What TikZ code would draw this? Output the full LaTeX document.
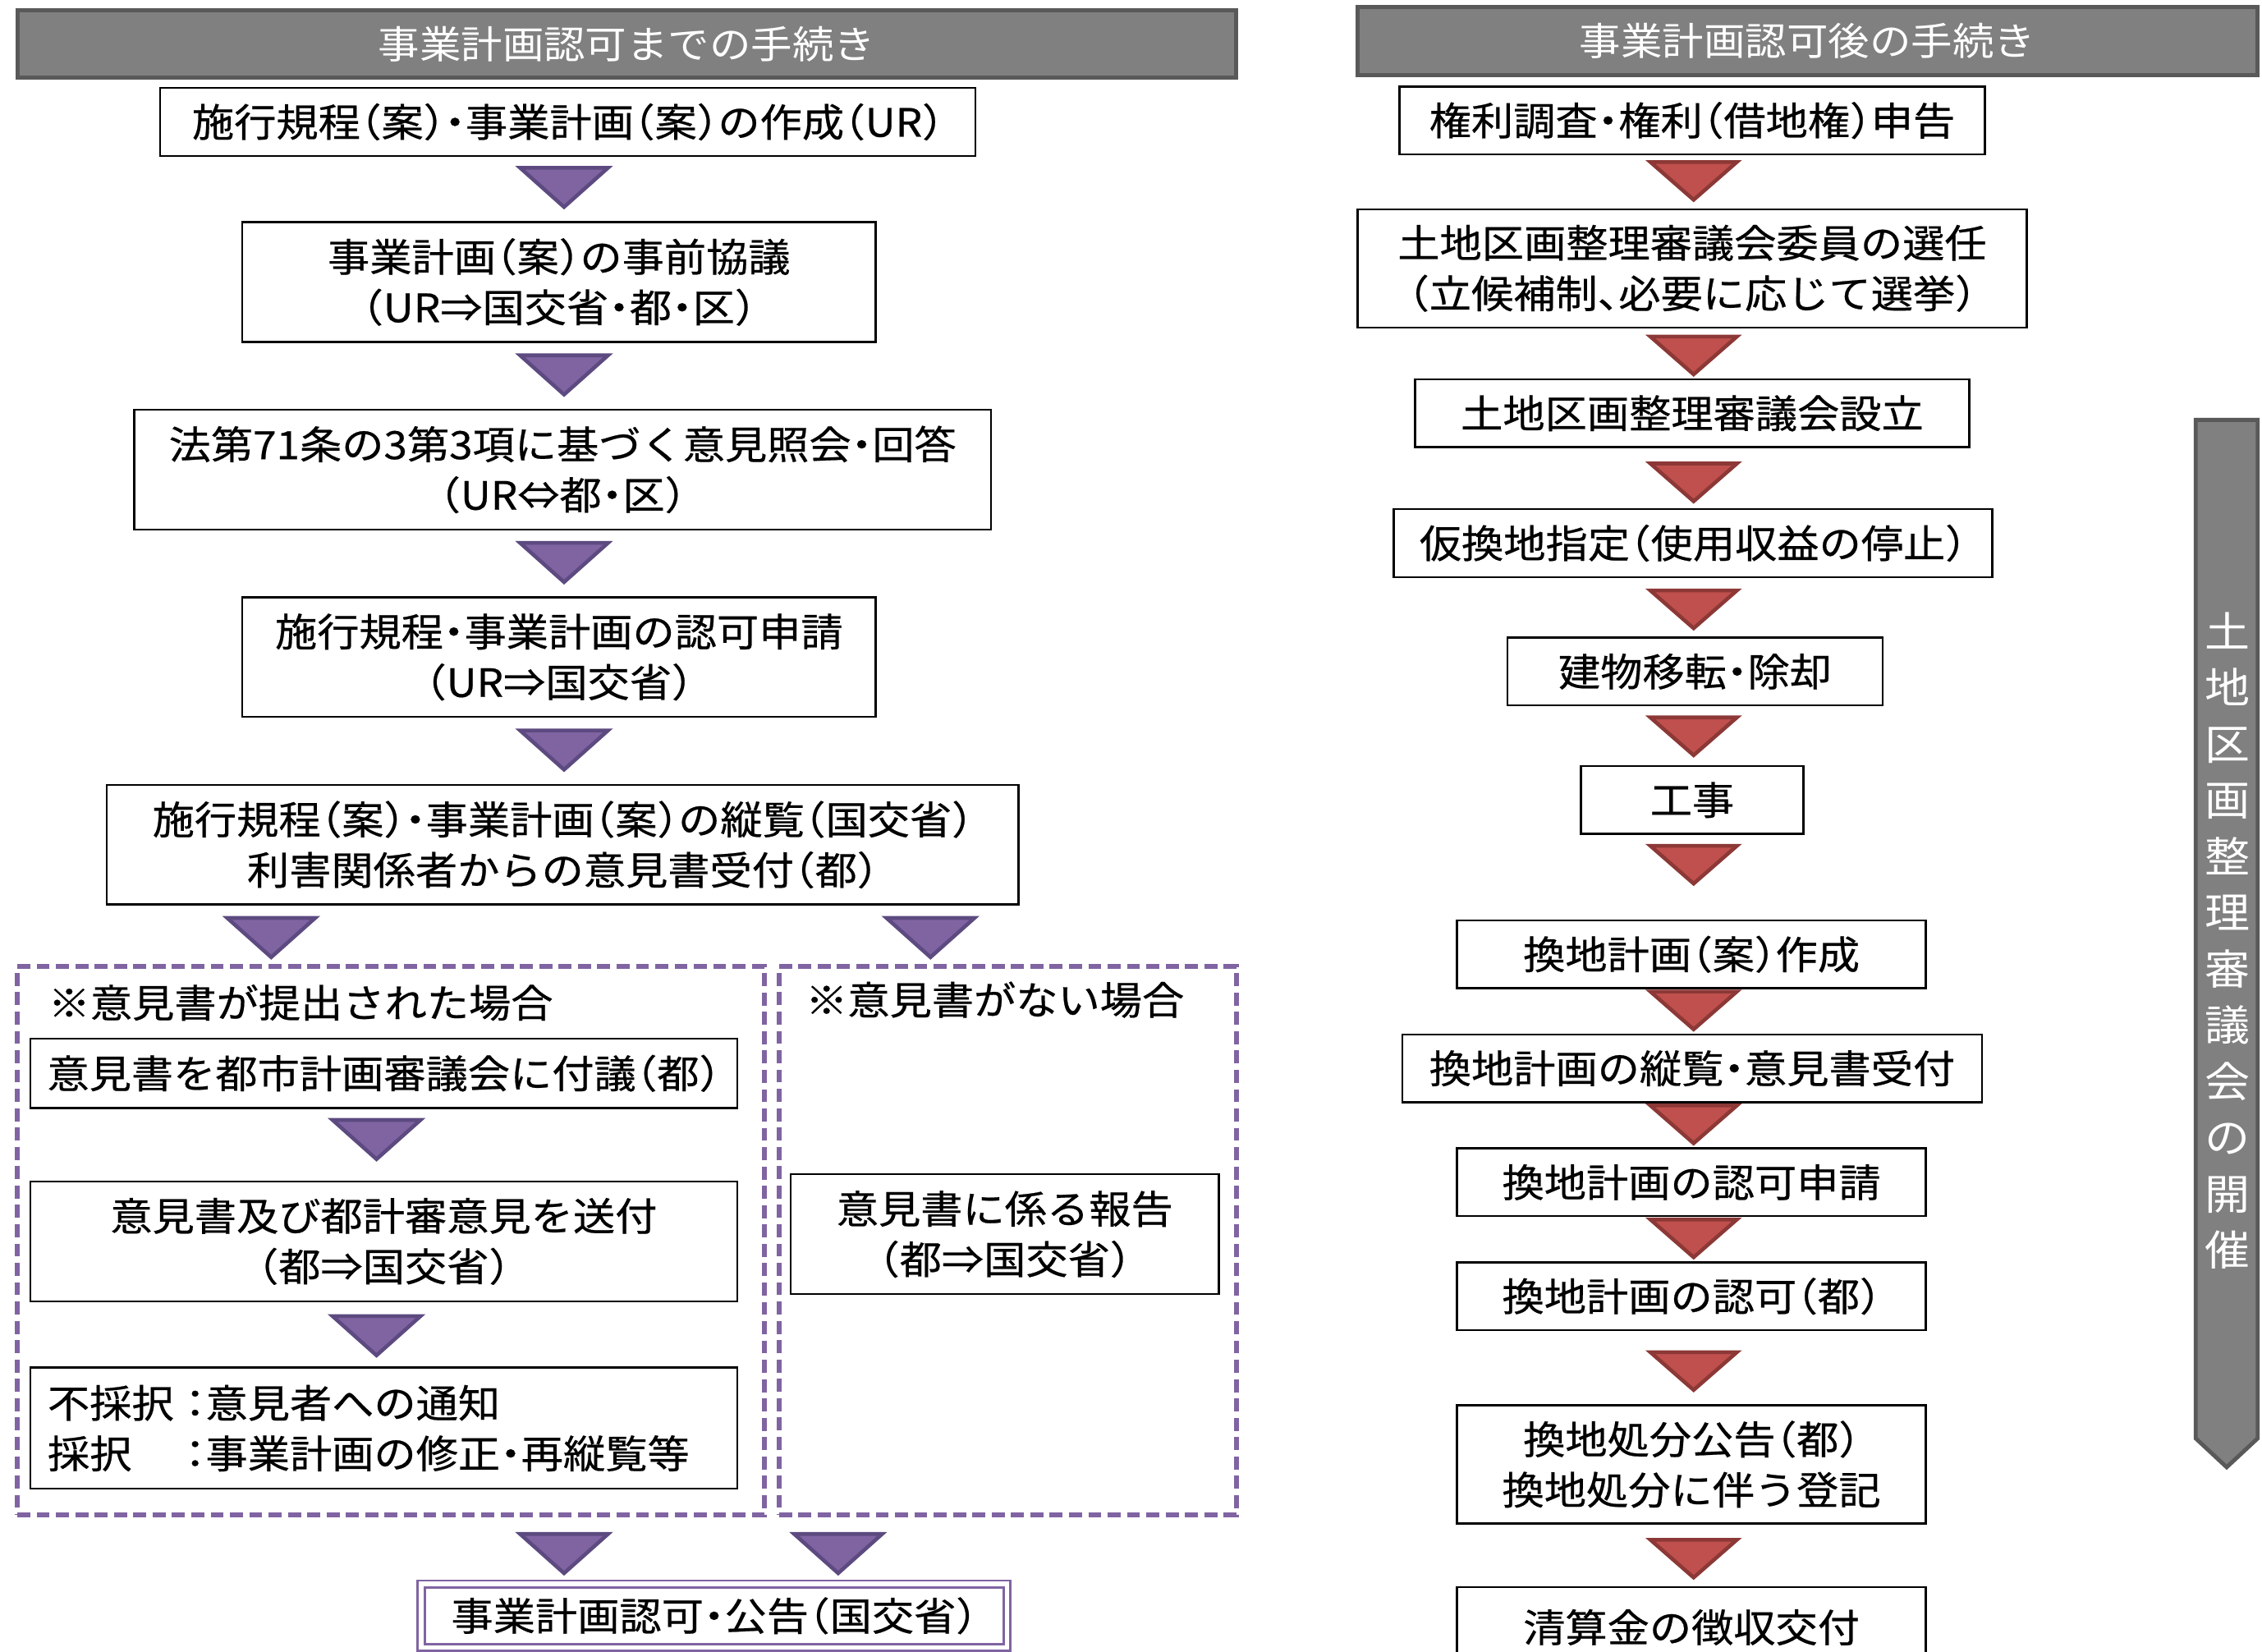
\documentclass[tikz,border=0pt]{standalone}
\usepackage{fontspec}
\setmainfont{Noto Sans CJK JP}[RawFeature=+halt, FakeStretch=1.08, FakeBold=0.5]
\newfontfamily\hdrfont{Noto Sans CJK JP}[RawFeature=+halt, FakeStretch=1.08]
\usetikzlibrary{calc}
\definecolor{hdrfill}{HTML}{808080}
\definecolor{hdrline}{HTML}{595959}
\definecolor{pfill}{HTML}{8064A2}
\definecolor{pline}{HTML}{5C4A80}
\definecolor{rfill}{HTML}{C0504D}
\definecolor{rline}{HTML}{8C3836}
\tikzset{
  sz/.style 2 args={minimum width=#1*0.5pt, minimum height=#2*0.5pt},
  txt/.style={font=\fontsize{13.5}{17.5}\selectfont},
  box/.style={txt, draw=black, line width=0.7pt, fill=white, inner sep=0pt, align=center},
  hdr/.style={font=\hdrfont\fontsize{13.3}{17.5}\selectfont, draw=hdrline, line width=1.4pt, fill=hdrfill, text=white, inner sep=0pt},
  dashbox/.style={draw=pfill, line width=1.6pt, dash pattern=on 4.5pt off 2.2pt, inner sep=0pt},
  lbl/.style={txt, anchor=west, inner sep=0pt},
  ptri/.pic={\draw[fill=pfill, draw=pline, line width=1.3pt] (-30.5,1.3) -- (30.5,1.3) -- (0,28.5) -- cycle;},
  rtri/.pic={\draw[fill=rfill, draw=rline, line width=1.3pt] (-30,1.3) -- (30,1.3) -- (0,27.5) -- cycle;},
}
\begin{document}
\begin{tikzpicture}[x=0.5pt, y=-0.5pt]
\useasboundingbox (0,0) rectangle (1568,1145);
\fill[white] (0,0) rectangle (1568,1145);

% headers
\node[hdr, sz={845}{47}] (hL) at (434.5,30.5) {事業計画認可までの手続き};
\node[hdr, sz={624}{47}] (hR) at (1253,28.5) {事業計画認可後の手続き};

% left column
\node[box, sz={565}{47}] (b1) at (393.5,84.5) {施行規程（案）・事業計画（案）の作成（UR）};
\node[box, sz={439}{83}] (b2) at (387.5,195.5) {事業計画（案）の事前協議\\（UR⇒国交省・都・区）};
\node[box, sz={594}{83}] (b3) at (390,325.5) {法第71条の3第3項に基づく意見照会・回答\\（UR⇔都・区）};
\node[box, sz={439}{83}] (b4) at (387.5,455.5) {施行規程・事業計画の認可申請\\（UR⇒国交省）};
\node[box, sz={632}{83}] (b5) at (390,585.5) {施行規程（案）・事業計画（案）の縦覧（国交省）\\利害関係者からの意見書受付（都）};

\pic at (391,115) {ptri};
\pic at (391,245) {ptri};
\pic at (391,375) {ptri};
\pic at (391,505) {ptri};
\pic at (188,635) {ptri};
\pic at (645,635) {ptri};

\node[dashbox, sz={518}{380}] (dL) at (271,860) {};
\node[dashbox, sz={317}{380}] (dR) at (698.5,860) {};
\node[lbl] (lL) at (33,695) {※意見書が提出された場合};
\node[lbl] (lR) at (558,693) {※意見書がない場合};

\node[box, sz={490}{48}] (b6) at (266,744) {意見書を都市計画審議会に付議（都）};
\pic at (261,775) {ptri};
\node[box, sz={490}{83}] (b7) at (266,860.5) {意見書及び都計審意見を送付\\（都⇒国交省）};
\pic at (261,911) {ptri};
\node[box, sz={490}{84}, align=left, text width=466*0.5pt] (b8) at (266,990)
  {\makebox[47.5pt][l]{不採択}：意見者への通知\\\makebox[47.5pt][l]{採択}：事業計画の修正・再縦覧等};
\node[box, sz={297}{83}] (br) at (696.5,855.5) {意見書に係る報告\\（都⇒国交省）};

\pic at (391,1062) {ptri};
\pic at (581,1062) {ptri};
\node[box, sz={406}{44}, draw=pfill, line width=0.8pt, double=white, double distance=1.6pt] (b9) at (495,1120) {事業計画認可・公告（国交省）};

% right column
\node[box, sz={406}{47}] (r1) at (1173,83.5) {権利調査・権利（借地権）申告};
\pic at (1174,111) {rtri};
\node[box, sz={464}{82}] (r2) at (1173,186) {土地区画整理審議会委員の選任\\（立候補制、必要に応じて選挙）};
\pic at (1174,232) {rtri};
\node[box, sz={384}{47}] (r3) at (1173,286.5) {土地区画整理審議会設立};
\pic at (1174,320) {rtri};
\node[box, sz={415}{47}] (r4) at (1173.5,376.5) {仮換地指定（使用収益の停止）};
\pic at (1174,408) {rtri};
\node[box, sz={260}{47}] (r5) at (1175,465.5) {建物移転・除却};
\pic at (1174,496) {rtri};
\node[box, sz={154}{47}] (r6) at (1173,554.5) {工事};
\pic at (1174,585) {rtri};
\node[box, sz={325}{47}] (r7) at (1172.5,661.5) {換地計画（案）作成};
\pic at (1174,686) {rtri};
\node[box, sz={402}{47}] (r8) at (1173,740.5) {換地計画の縦覧・意見書受付};
\pic at (1174,765) {rtri};
\node[box, sz={325}{47}] (r9) at (1172.5,819.5) {換地計画の認可申請};
\pic at (1174,844) {rtri};
\node[box, sz={325}{47}] (r10) at (1172.5,898.5) {換地計画の認可（都）};
\pic at (1174,936) {rtri};
\node[box, sz={325}{82}] (r11) at (1172.5,1015) {換地処分公告（都）\\換地処分に伴う登記};
\pic at (1174,1066) {rtri};
\node[box, sz={325}{56}] (r12) at (1172.5,1128) {清算金の徴収交付};

% vertical bar
\draw[draw=hdrline, line width=1.4pt, fill=hdrfill] (1522,291) -- (1565,291) -- (1565,997) -- (1543.5,1017) -- (1522,997) -- cycle;
\node[font=\hdrfont\fontsize{14.5}{19.5}\selectfont, text=white, align=center, inner sep=0pt] (vt) at (1544,652)
  {土\\地\\区\\画\\整\\理\\審\\議\\会\\の\\開\\催};
\end{tikzpicture}
\end{document}
